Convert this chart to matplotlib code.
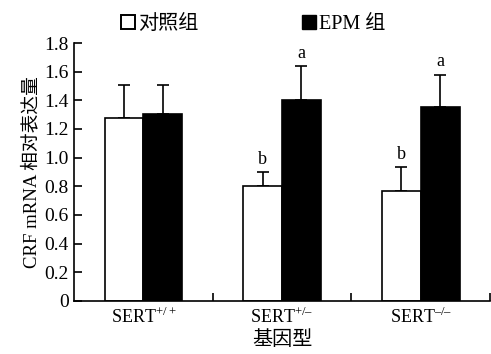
import matplotlib
matplotlib.use("Agg")
import matplotlib.pyplot as plt
import numpy as np
from matplotlib.lines import Line2D

plt.rcParams['font.family'] = ['Liberation Serif', 'Noto Sans CJK SC']
plt.rcParams['mathtext.fontset'] = 'custom'
plt.rcParams['mathtext.rm'] = 'Liberation Serif'

groups = [r'SERT$^{\mathrm{+/+}}$', r'SERT$^{\mathrm{+/–}}$', r'SERT$^{\mathrm{–/–}}$']
ctrl_mean = [1.28, 0.80, 0.77]
ctrl_err = [0.23, 0.10, 0.165]
epm_mean = [1.305, 1.40, 1.355]
epm_err = [0.205, 0.24, 0.225]
ctrl_mark = ['', 'b', 'b']
epm_mark = ['', 'a', 'a']

fig = plt.figure(figsize=(4.91, 3.54), dpi=100)
ax = fig.add_axes([0.151, 0.15, 0.847, 0.7285])

x = np.arange(len(groups))
w = 0.28
ax.bar(x - w / 2, ctrl_mean, w, color='white', edgecolor='black', linewidth=1.2, zorder=2)
ax.bar(x + w / 2, epm_mean, w, color='black', edgecolor='black', linewidth=1.2, zorder=2)
ax.errorbar(x - w / 2, ctrl_mean, yerr=[np.zeros(3), ctrl_err], fmt='none',
            ecolor='black', elinewidth=1.2, capsize=4.5, capthick=1.2, zorder=1)
ax.errorbar(x + w / 2, epm_mean, yerr=[np.zeros(3), epm_err], fmt='none',
            ecolor='black', elinewidth=1.2, capsize=4.5, capthick=1.2, zorder=1)

for i in range(len(groups)):
    if ctrl_mark[i]:
        ax.text(x[i] - w / 2, ctrl_mean[i] + ctrl_err[i] + 0.03, ctrl_mark[i],
                ha='center', va='bottom', fontsize=13)
    if epm_mark[i]:
        ax.text(x[i] + w / 2, epm_mean[i] + epm_err[i] + 0.03, epm_mark[i],
                ha='center', va='bottom', fontsize=13)

ax.set_xlim(-0.5, 2.5)
ax.set_ylim(0, 1.8)
ax.set_yticks(np.arange(0, 1.81, 0.2))
ax.set_yticklabels(['0'] + ['%.1f' % v for v in np.arange(0.2, 1.81, 0.2)])
ax.set_xticks(x)
ax.set_xticklabels(groups)
ax.set_xticks([0.5, 1.5, 2.5], minor=True)
ax.tick_params(axis='x', which='major', length=0, labelsize=13, pad=4)
ax.tick_params(axis='x', which='minor', direction='in', length=6, width=1.2)
ax.tick_params(axis='y', direction='in', length=6, width=1.2, labelsize=14, pad=4)
for s in ['top', 'right']:
    ax.spines[s].set_visible(False)
for s in ['left', 'bottom']:
    ax.spines[s].set_linewidth(1.2)

ax.set_ylabel('CRF mRNA 相对表达量', fontsize=13.5, labelpad=3)
ax.set_xlabel('基因型', fontsize=14.5, labelpad=3)

handles = [Line2D([], [], marker='s', linestyle='none', markersize=10.5,
                  markerfacecolor='white', markeredgecolor='black', markeredgewidth=1.4),
           Line2D([], [], marker='s', linestyle='none', markersize=10.5,
                  markerfacecolor='black', markeredgecolor='black')]
fig.legend(handles, ['对照组', 'EPM 组'], loc='upper center', bbox_to_anchor=(0.513, 1.01),
           ncol=2, frameon=False, fontsize=14.5, handletextpad=0.0, columnspacing=5.0,
           handlelength=1.0)

fig.savefig('out.png', dpi=100)
